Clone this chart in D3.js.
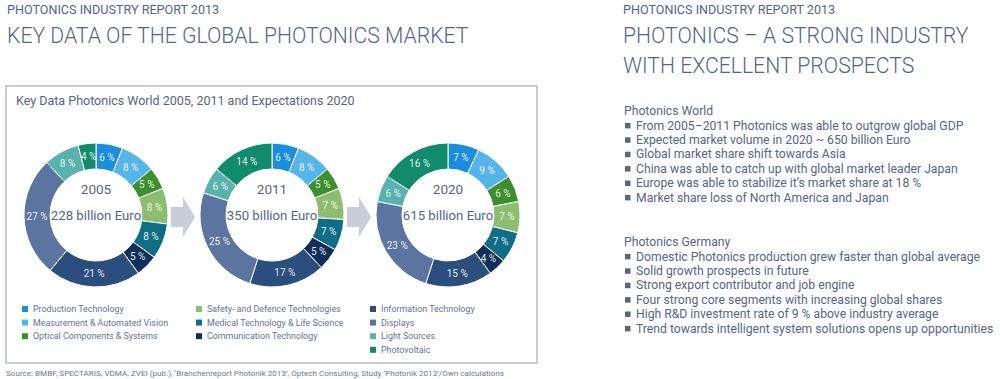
<!DOCTYPE html>
<html>
<head>
<meta charset="utf-8">
<script src="https://cdn.jsdelivr.net/npm/d3@7"></script>
<style>
  body { margin: 0; background: #fff; }
  svg { display: block; font-family: Roboto, "Liberation Sans", sans-serif; }
</style>
</head>
<body>
<div id="chart"></div>
<script>
// data
const categories = [
  "Production Technology", "Measurement & Automated Vision", "Optical Components & Systems",
  "Safety- and Defence Technologies", "Medical Technology & Life Science", "Communication Technology",
  "Information Technology", "Displays", "Light Sources", "Photovoltaic"
];
const catColors = ["#1b8de0", "#55b5ea", "#3b8f2c", "#8dbd70", "#0f6e86", "#10305a",
  "#2c4e7e", "#5c74a0", "#58b2ad", "#128b6d"];
const years = ["2005", "2011", "2020"];
const volumes = ["228 billion Euro", "350 billion Euro", "615 billion Euro"];
const shares2005 = [6, 8, 5, 8, 8, 5, 21, 27, 8, 4];
const shares2011 = [6, 8, 5, 7, 7, 5, 17, 25, 6, 14];
const shares2020 = [7, 9, 6, 7, 7, 4, 15, 23, 6, 16];
const legendColumns = [[0, 1, 2], [3, 4, 5], [6, 7, 8, 9]];

const worldPoints = [
  "From 2005\u20132011 Photonics was able to outgrow global GDP",
  "Expected market volume in 2020 ~ 650 billion Euro",
  "Global market share shift towards Asia",
  "China was able to catch up with global market leader Japan",
  "Europe was able to stabilize it\u2019s market share at 18 %",
  "Market share loss of North America and Japan"
];
const germanyPoints = [
  "Domestic Photonics production grew faster than global average",
  "Solid growth prospects in future",
  "Strong export contributor and job engine",
  "Four strong core segments with increasing global shares",
  "High R&D investment rate of 9 % above industry average",
  "Trend towards intelligent system solutions opens up opportunities"
];

const layout = { width: 1000, height: 379, donutY: 215, outer: 72, inner: 46 };
const textColor = "#56658a";

const svg = d3.select("#chart").append("svg")
  .attr("width", layout.width)
  .attr("height", layout.height);

// headings
function heading(x, y, txt, size, weight) {
  return svg.append("text")
    .attr("x", x).attr("y", y)
    .attr("font-size", size)
    .attr("font-weight", weight)
    .attr("fill", textColor)
    .text(txt);
}
heading(7, 14, "PHOTONICS INDUSTRY REPORT 2013", 12.6, 400);
heading(7, 43, "KEY DATA OF THE GLOBAL PHOTONICS MARKET", 21.2, 300);
heading(623, 14, "PHOTONICS INDUSTRY REPORT 2013", 12.6, 400);
heading(623, 43, "PHOTONICS \u2013 A STRONG INDUSTRY", 21.2, 300);
heading(623, 73, "WITH EXCELLENT PROSPECTS", 21.2, 300);

// frame
svg.append("rect")
  .attr("x", 6).attr("y", 86)
  .attr("width", 531).attr("height", 277)
  .attr("fill", "none")
  .attr("stroke", "#c6cbd7")
  .attr("stroke-width", 2);
svg.append("text")
  .attr("x", 16).attr("y", 105)
  .attr("font-size", 12.5)
  .attr("fill", textColor)
  .text("Key Data Photonics World 2005, 2011 and Expectations 2020");

// donuts
const xScale = d3.scalePoint().domain(years).range([96, 448]);
const colorScale = d3.scaleOrdinal().domain(categories).range(catColors);
const pie = d3.pie().sort(null).value(d => d.value);
const arc = d3.arc().innerRadius(layout.inner).outerRadius(layout.outer);
const labelArc = d3.arc().innerRadius(59).outerRadius(59);
const allShares = [shares2005, shares2011, shares2020];

// arrows between donuts
const arrowShape = [[-13, -10], [-1, -10], [-1, -20], [11, 0], [-1, 20], [-1, 10], [-13, 10]];
for (let i = 0; i < years.length - 1; i++) {
  const mx = (xScale(years[i]) + xScale(years[i + 1])) / 2;
  svg.append("path")
    .attr("transform", `translate(${mx},${layout.donutY + 2})`)
    .attr("d", d3.line()(arrowShape) + "Z")
    .attr("fill", "#c9cdd9");
}

years.forEach((yr, i) => {
  const data = categories.map((c, k) => ({ cat: c, value: allShares[i][k] }));
  const g = svg.append("g")
    .attr("transform", `translate(${xScale(yr)},${layout.donutY})`);
  const arcs = pie(data);
  g.selectAll("path").data(arcs).join("path")
    .attr("d", arc)
    .attr("fill", d => colorScale(d.data.cat))
    .attr("stroke", "#fff")
    .attr("stroke-width", 1);
  g.selectAll("text.pct").data(arcs).join("text")
    .attr("class", "pct")
    .attr("transform", d => `translate(${labelArc.centroid(d)})`)
    .attr("text-anchor", "middle")
    .attr("dy", "0.35em")
    .attr("font-size", 10)
    .attr("fill", "#fff")
    .attr("fill-opacity", 0.9)
    .text(d => d.data.value + " %");
  g.append("text")
    .attr("y", -21)
    .attr("text-anchor", "middle")
    .attr("font-size", 13.5)
    .attr("fill", textColor)
    .text(yr);
  g.append("text")
    .attr("y", 5)
    .attr("text-anchor", "middle")
    .attr("font-size", 13.2)
    .attr("fill", textColor)
    .text(volumes[i]);
});

// legend
const legendX = [22, 196, 370];
legendColumns.forEach((col, ci) => {
  col.forEach((k, ri) => {
    const y = 309 + ri * 13.6;
    svg.append("rect")
      .attr("x", legendX[ci]).attr("y", y - 3)
      .attr("width", 6).attr("height", 6)
      .attr("fill", catColors[k]);
    svg.append("text")
      .attr("x", legendX[ci] + 11).attr("y", y)
      .attr("dy", "0.35em")
      .attr("font-size", 8.9)
      .attr("fill", "#66739a")
      .text(categories[k]);
  });
});

// source
svg.append("text")
  .attr("x", 6).attr("y", 376)
  .attr("font-size", 8.1)
  .attr("fill", "#6c7797")
  .text("Source: BMBF, SPECTARIS, VDMA, ZVEI (pub.), \u2018Branchenreport Photonik 2013\u2019, Optech Consulting, Study \u2018Photonik 2013\u2019/Own calculations");

// right-hand bullet lists
function bulletBlock(title, items, y0) {
  svg.append("text")
    .attr("x", 624).attr("y", y0)
    .attr("dy", "0.35em")
    .attr("font-size", 12.2)
    .attr("fill", textColor)
    .text(title);
  items.forEach((t, i) => {
    const y = y0 + 14.4 * (i + 1);
    svg.append("rect")
      .attr("x", 625).attr("y", y - 2.5)
      .attr("width", 5.5).attr("height", 5.5)
      .attr("fill", textColor);
    svg.append("text")
      .attr("x", 636).attr("y", y)
      .attr("dy", "0.35em")
      .attr("font-size", 12.2)
      .attr("fill", textColor)
      .text(t);
  });
}
bulletBlock("Photonics World", worldPoints, 111);
bulletBlock("Photonics Germany", germanyPoints, 242);
</script>
</body>
</html>
